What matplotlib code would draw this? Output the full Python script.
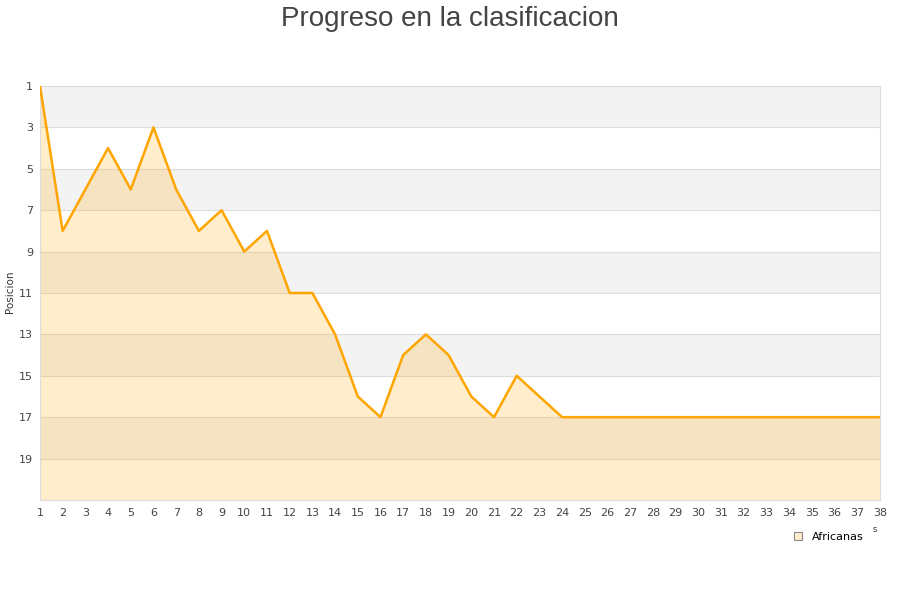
import numpy as np
import matplotlib
matplotlib.use('Agg')
import matplotlib.pyplot as plt
from matplotlib.lines import Line2D

jornadas = list(range(1, 39))
posicion = [1, 8, 6, 4, 6, 3, 6, 8, 7, 9, 8, 11, 11, 13, 16, 17, 14, 13, 14, 16,
            17, 15, 16, 17, 17, 17, 17, 17, 17, 17, 17, 17, 17, 17, 17, 17, 17, 17]
yticks = list(range(1, 20, 2))
serie = 'Africanas'

fig = plt.figure(figsize=(9, 6), dpi=100)
ax = fig.add_axes([0.0444, 0.1667, 0.9333, 0.69])

# bandas alternas
for i, y0 in enumerate(range(1, 21, 2)):
    if i % 2 == 0:
        ax.axhspan(y0, y0 + 2, color='#f3f3f3', zorder=0, lw=0)
for y in yticks[1:]:
    ax.axhline(y, color='#dddddd', lw=0.8, zorder=1)

ax.fill_between(jornadas, posicion, 21, color='#ffa500', alpha=0.2, lw=0, zorder=2)
ax.plot(jornadas, posicion, color='#ffa500', lw=1.8, zorder=3)

ax.set_xlim(1, 38)
ax.set_ylim(21, 1)
ax.set_xticks(jornadas)
ax.set_yticks(yticks)
ax.tick_params(axis='both', length=0, labelsize=8, colors='#444444', pad=6)
ax.tick_params(axis='y', pad=5)
for s in ax.spines.values():
    s.set_color('#dddddd')

fig.text(0.011, 0.513, 'Posicion', rotation=90, ha='center', va='center',
         fontsize=7.5, color='#333333')

fig.text(0.5, 0.99, 'Progreso en la clasificacion', ha='center', va='top',
         fontsize=20, color='#444444', family='Liberation Sans')

handle = Line2D([], [], marker='s', ls='none', markersize=6,
                markerfacecolor='#ffedcc', markeredgecolor='#888888', markeredgewidth=0.8)
fig.legend([handle], [serie], loc='center', bbox_to_anchor=(0.92, 0.105),
           frameon=False, fontsize=8, handletextpad=0.8, handlelength=1)
fig.text(0.972, 0.113, 's', fontsize=6, color='#333333', ha='center')

fig.savefig('out.png', dpi=100)
